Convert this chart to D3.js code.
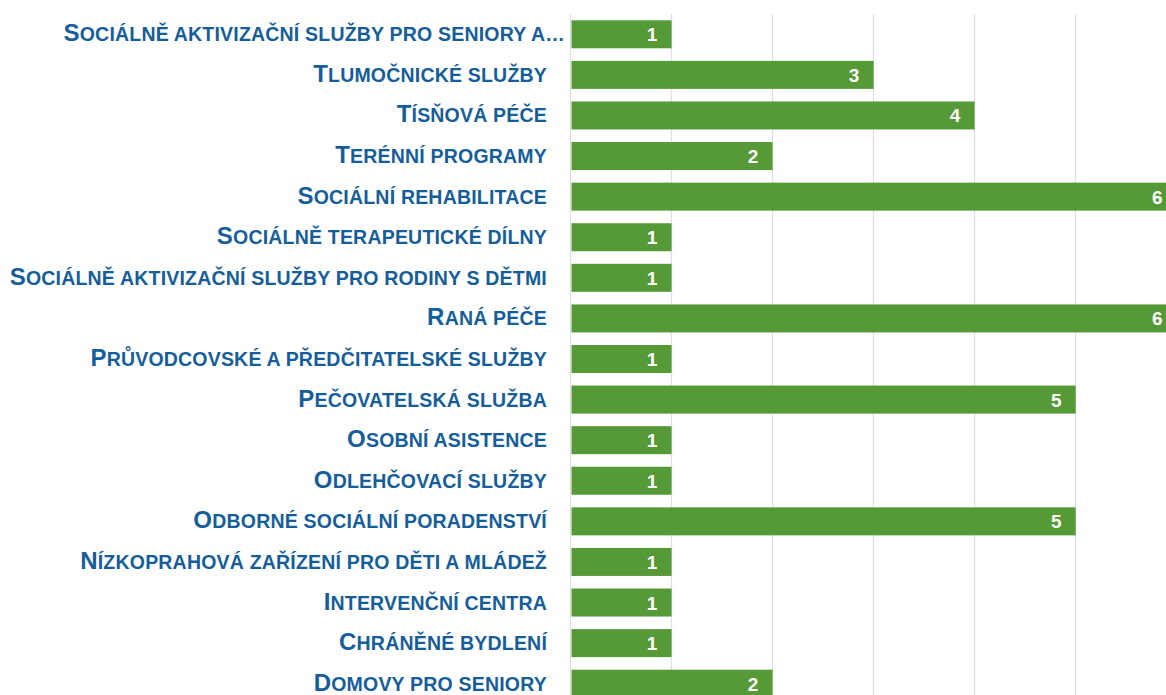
<!DOCTYPE html>
<html>
<head>
<meta charset="utf-8">
<script src="https://cdn.jsdelivr.net/npm/d3@7"></script>
<style>
  html, body { margin: 0; padding: 0; background: #fff; }
  svg { display: block; }
</style>
</head>
<body>
<div class="vis-barchart"></div>
<script>
// data, top row first
const categories = [
    "Sociálně aktivizační služby pro seniory a…",
    "Tlumočnické služby",
    "Tísňová péče",
    "Terénní programy",
    "Sociální rehabilitace",
    "Sociálně terapeutické dílny",
    "Sociálně aktivizační služby pro rodiny s dětmi",
    "Raná péče",
    "Průvodcovské a předčitatelské služby",
    "Pečovatelská služba",
    "Osobní asistence",
    "Odlehčovací služby",
    "Odborné sociální poradenství",
    "Nízkoprahová zařízení pro děti a mládež",
    "Intervenční centra",
    "Chráněné bydlení",
    "Domovy pro seniory"
];
const values = [1, 3, 4, 2, 6, 1, 1, 6, 1, 5, 1, 1, 5, 1, 1, 1, 2];
const xTicks = [0, 1, 2, 3, 4, 5, 6];

const width = 1166, height = 695;
const font = '"Liberation Sans", Arial, sans-serif';

const svg = d3.select('.vis-barchart').append('svg')
    .attr('width', width)
    .attr('height', height);

// X axis
const x = d3.scaleLinear()
    .domain([0, 6])
    .range([570.3, 1176.5]);

// Y axis
const y = d3.scaleBand()
    .domain(categories)
    .range([14, 704])
    .paddingInner(0.31)
    .paddingOuter(0.155);

// gridlines
svg.append('g').selectAll('line')
    .data(xTicks)
    .join('line')
    .attr('x1', d => Math.round(x(d)) + 0.5)
    .attr('x2', d => Math.round(x(d)) + 0.5)
    .attr('y1', 14)
    .attr('y2', height)
    .attr('stroke', '#dcdfe4')
    .attr('stroke-width', 1.2);

// bars
svg.append('g').selectAll('rect')
    .data(values)
    .join('rect')
    .attr('x', x(0) + 1.2)
    .attr('y', (d, i) => y(categories[i]))
    .attr('width', d => x(d) - x(0) - 1)
    .attr('height', y.bandwidth())
    .attr('fill', '#569937');

// value labels
svg.append('g').selectAll('text')
    .data(values)
    .join('text')
    .attr('x', d => x(d) - 14)
    .attr('y', (d, i) => y(categories[i]) + y.bandwidth() / 2 + 7)
    .attr('text-anchor', 'end')
    .attr('font-family', font)
    .attr('font-weight', 'bold')
    .attr('font-size', 19)
    .attr('fill', '#fff')
    .text(d => d);

// category labels, small caps done by hand
function smallCapsRuns(s) {
    const runs = [];
    for (const ch of s) {
        const big = ch !== ch.toLowerCase();
        const last = runs[runs.length - 1];
        if (last && last.big === big) last.t += ch.toUpperCase();
        else runs.push({ big: big, t: ch.toUpperCase() });
    }
    return runs;
}

const labels = svg.append('g').selectAll('text')
    .data(categories)
    .join('text')
    .attr('x', (d, i) => i === 0 ? 565 : 547)
    .attr('y', d => y(d) + y.bandwidth() / 2 + 7)
    .attr('text-anchor', 'end')
    .attr('font-family', font)
    .attr('font-weight', 'bold')
    .attr('fill', '#155E9A')
    .style('letter-spacing', '0.2px');

labels.selectAll('tspan')
    .data(d => smallCapsRuns(d))
    .join('tspan')
    .attr('font-size', d => d.big ? 24 : 19.5)
    .text(d => d.t);
</script>
</body>
</html>
